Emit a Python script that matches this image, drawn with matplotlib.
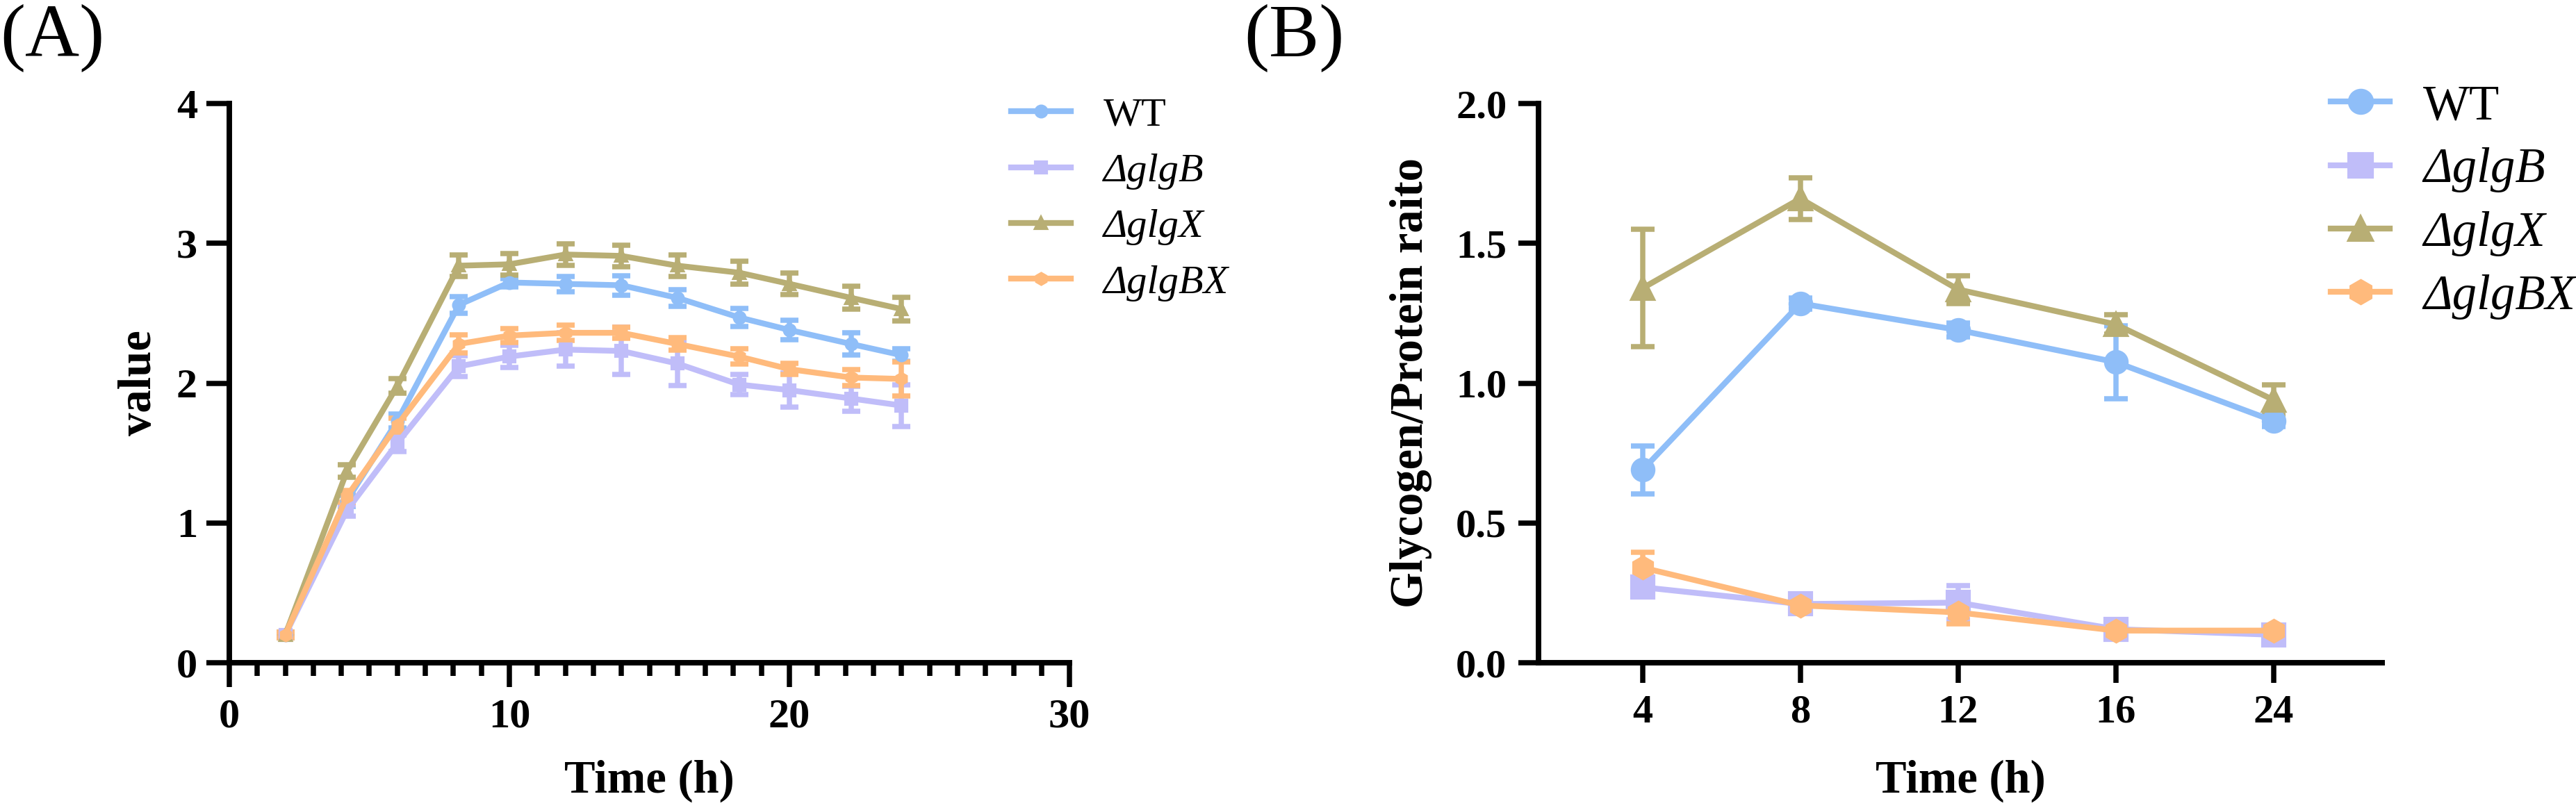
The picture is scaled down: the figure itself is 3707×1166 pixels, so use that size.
import matplotlib
matplotlib.use("Agg")
import matplotlib.pyplot as plt
from matplotlib.lines import Line2D
from matplotlib.ticker import MultipleLocator, FormatStrFormatter

plt.rcParams['font.family'] = ['Liberation Serif', 'DejaVu Serif']

# ---- data, panel A (growth curve) ----
time_a = [2, 4.2, 6, 8.2, 10, 12, 14, 16, 18.2, 20, 22.2, 24]
wt_a = [0.2, 1.16, 1.73, 2.56, 2.72, 2.71, 2.70, 2.61, 2.47, 2.38, 2.28, 2.20]
glgB_a = [0.2, 1.09, 1.57, 2.12, 2.19, 2.24, 2.23, 2.14, 1.99, 1.95, 1.89, 1.84]
glgX_a = [0.2, 1.37, 1.98, 2.84, 2.85, 2.92, 2.91, 2.84, 2.79, 2.71, 2.61, 2.53]
glgBX_a = [0.2, 1.19, 1.70, 2.28, 2.34, 2.36, 2.36, 2.28, 2.19, 2.10, 2.04, 2.03]
wt_a_err = [0.02, 0.04, 0.05, 0.06, 0.03, 0.055, 0.07, 0.06, 0.065, 0.07, 0.08, 0.045]
glgB_a_err = [0.02, 0.04, 0.06, 0.075, 0.08, 0.12, 0.17, 0.155, 0.07, 0.12, 0.09, 0.15]
glgX_a_err = [0.02, 0.045, 0.05, 0.075, 0.075, 0.077, 0.077, 0.076, 0.08, 0.078, 0.083, 0.086]
glgBX_a_err = [0.02, 0.04, 0.05, 0.065, 0.05, 0.053, 0.04, 0.045, 0.055, 0.04, 0.055, 0.12]

# ---- data, panel B (glycogen / protein) ----
time_b = ['4', '8', '12', '16', '24']
wt_b = [0.69, 1.285, 1.19, 1.075, 0.865]
glgB_b = [0.27, 0.21, 0.215, 0.12, 0.10]
glgX_b = [1.34, 1.66, 1.335, 1.21, 0.94]
glgBX_b = [0.34, 0.205, 0.18, 0.115, 0.115]
wt_b_err = [0.085, 0.02, 0.025, 0.13, 0.02]
glgB_b_err = [0.02, 0.03, 0.06, 0.02, 0.02]
glgX_b_err = [0.21, 0.075, 0.05, 0.035, 0.055]
glgBX_b_err = [0.055, 0.02, 0.04, 0.02, 0.02]

names = ['WT', 'ΔglgB', 'ΔglgX', 'ΔglgBX']
colors = ['#8FBEF8', '#C0BDF9', '#B8AE74', '#FFBA7C']
markers = ['o', 's', '^', 'h']

fig = plt.figure(figsize=(3707 / 300, 1166 / 300), dpi=300)
axA = fig.add_axes([0.089, 0.1818, 0.3262, 0.6904])
axB = fig.add_axes([0.5973, 0.1818, 0.3275, 0.6904])

bold = dict(fontweight='bold', fontsize=16)

# panel A
series_a = [(wt_a, wt_a_err), (glgB_a, glgB_a_err), (glgX_a, glgX_a_err), (glgBX_a, glgBX_a_err)]
for (y, e), c, m in zip(series_a, colors, markers):
    axA.errorbar(time_a, y, yerr=e, color=c, marker=m, markersize=3.8, lw=2.0,
                 elinewidth=1.8, capsize=3.2, capthick=1.8, clip_on=False)
axA.set_xlim(0, 30)
axA.set_ylim(0, 4)
axA.xaxis.set_major_locator(MultipleLocator(10))
axA.xaxis.set_minor_locator(MultipleLocator(1))
axA.yaxis.set_major_locator(MultipleLocator(1))
axA.tick_params(axis='both', which='major', length=8, width=1.8, labelsize=14.5, pad=3)
axA.tick_params(axis='x', which='major', length=8.5, pad=3.8)
axA.tick_params(axis='x', which='minor', length=4.5, width=1.8)
axA.set_xlabel('Time (h)', **bold)
axA.set_ylabel('value', **bold)
axA.xaxis.set_label_coords(0.5, -0.1727)
axA.yaxis.set_label_coords(-0.082, 0.5)

# panel B
xb = list(range(len(time_b)))
series_b = [(wt_b, wt_b_err), (glgB_b, glgB_b_err), (glgX_b, glgX_b_err), (glgBX_b, glgBX_b_err)]
for (y, e), c, m in zip(series_b, colors, markers):
    axB.errorbar(xb, y, yerr=e, color=c, marker=m, markersize=7.5, lw=2.0,
                 elinewidth=1.8, capsize=4, capthick=1.8, clip_on=False)
axB.set_xlim(-0.66, 4.69)
axB.set_ylim(0, 2)
axB.set_xticks(xb)
axB.set_xticklabels(time_b)
axB.yaxis.set_major_locator(MultipleLocator(0.5))
axB.yaxis.set_major_formatter(FormatStrFormatter('%.1f'))
axB.tick_params(axis='both', length=7, width=1.8, labelsize=14, pad=4)
axB.set_xlabel('Time (h)', **bold)
axB.set_ylabel('Glycogen/Protein raito', **bold)
axB.xaxis.set_label_coords(0.5, -0.1727)
axB.yaxis.set_label_coords(-0.126, 0.5)

for ax in (axA, axB):
    ax.spines['top'].set_visible(False)
    ax.spines['right'].set_visible(False)
    for s in ('left', 'bottom'):
        ax.spines[s].set_linewidth(1.9)
    for lab in ax.get_xticklabels() + ax.get_yticklabels():
        lab.set_fontweight('bold')

# legends
def make_handles(ms):
    return [Line2D([], [], color=c, marker=m, markersize=ms, lw=2.0) for c, m in zip(colors, markers)]

legA = axA.legend(make_handles(3.8), names, loc='upper left', bbox_to_anchor=(0.3925, 0.880),
                  bbox_transform=fig.transFigure, frameon=False, fontsize=14, handlelength=1.48,
                  handletextpad=0.8, labelspacing=0.47, borderpad=0, borderaxespad=0)
legB = axB.legend(make_handles(8), names, loc='upper left', bbox_to_anchor=(0.9048, 0.896),
                  bbox_transform=fig.transFigure, frameon=False, fontsize=17, handlelength=1.2,
                  handletextpad=0.68, labelspacing=0.37, borderpad=0, borderaxespad=0)
for leg in (legA, legB):
    for t in leg.get_texts()[1:]:
        t.set_style('italic')

fig.text(0.0, 0.995, '(A)', ha='left', va='top', fontsize=26)
fig.text(0.483, 0.995, '(B)', ha='left', va='top', fontsize=26)

fig.savefig('out.png', dpi=300)
